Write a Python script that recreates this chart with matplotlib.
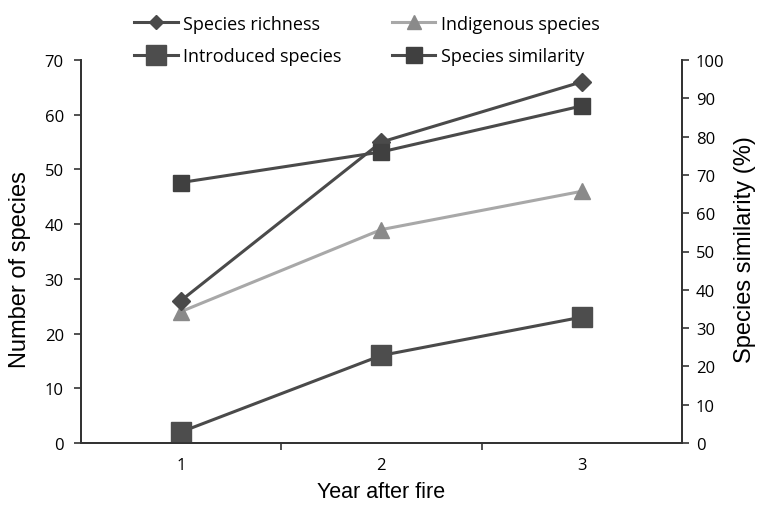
import matplotlib
matplotlib.use("Agg")
import matplotlib.pyplot as plt
from matplotlib.lines import Line2D

years = ["1", "2", "3"]
richness = [26, 55, 66]
indigenous = [24, 39, 46]
introduced = [2, 16, 23]
similarity = [68, 76, 88]

left_ticks = [0, 10, 20, 30, 40, 50, 60, 70]
right_ticks = [0, 10, 20, 30, 40, 50, 60, 70, 80, 90, 100]

tick_font = "Open Sans"
label_font = "Liberation Sans"

W, H = 757, 506
L, R, T, B = 80.5, 682, 61, 444
fig = plt.figure(figsize=(W/100, H/100), dpi=100)
ax = fig.add_axes([L/W, 1-B/H, (R-L)/W, (B-T)/H])
ax2 = ax.twinx()

x = [1, 2, 3]
dark = "#4a4a4a"
ax.plot(x, introduced, color=dark, lw=2.2, marker="s", ms=14, mfc="#4d4d4d", mec="#4d4d4d", zorder=3)
ax.plot(x, indigenous, color="#a8a8a8", lw=2.2, marker="^", ms=12, mfc="#8a8a8a", mec="#8a8a8a", zorder=3)
ax.plot(x, richness, color=dark, lw=2.2, marker="D", ms=9.5, mfc="#4a4a4a", mec="#4a4a4a", zorder=4)
ax2.plot(x, similarity, color=dark, lw=2.2, marker="s", ms=12, mfc="#404040", mec="#404040", zorder=3)

ax.set_xlim(0.5, 3.5)
ax.set_ylim(0, 70)
ax2.set_ylim(0, 100)
ax.set_yticks(left_ticks)
ax2.set_yticks(right_ticks)
ax.set_xticks([1.5, 2.5], minor=False)
ax.set_xticks([1, 2, 3], minor=True)
ax.set_xticklabels([])
ax.set_xticklabels(years, minor=True)
ax.tick_params(axis="x", which="major", length=5, width=1.2, color="#333333", direction="out")
ax.tick_params(axis="x", which="minor", length=0, pad=10, labelsize=12)
for lab in ax.get_xticklabels(minor=True):
    lab.set_fontfamily(tick_font)

ax.tick_params(axis="y", length=5, width=1.2, color="#333333", labelsize=12, pad=7)
ax2.tick_params(axis="y", length=5, width=1.2, color="#333333", labelsize=12, pad=5)
for lab in ax.get_yticklabels() + ax2.get_yticklabels():
    lab.set_fontfamily(tick_font)

for a in (ax, ax2):
    a.spines["top"].set_visible(False)
    for s in ("left", "right", "bottom"):
        a.spines[s].set_linewidth(1.3)
        a.spines[s].set_color("#333333")

ax.set_ylabel("Number of species", fontsize=17, family=label_font)
ax.yaxis.label.set_va("center")
ax.yaxis.set_label_coords((20 - L)/(R - L), (B - 270)/(B - T))
ax2.set_ylabel("Species similarity (%)", fontsize=17, family=label_font)
ax2.yaxis.label.set_va("center")
ax2.yaxis.set_label_coords((745 - L)/(R - L), (B - 250)/(B - T))
ax.set_xlabel("Year after fire", fontsize=15.5, family=label_font)
ax.xaxis.label.set_va("center")
ax.xaxis.set_label_coords(0.5, (B - 493)/(B - T))

handles = [
    Line2D([], [], color=dark, lw=2.2, marker="D", ms=7, mfc="#4a4a4a", mec="#4a4a4a"),
    Line2D([], [], color=dark, lw=2.2, marker="s", ms=14, mfc="#4d4d4d", mec="#4d4d4d"),
    Line2D([], [], color="#a8a8a8", lw=2.2, marker="^", ms=10, mfc="#8a8a8a", mec="#8a8a8a"),
    Line2D([], [], color=dark, lw=2.2, marker="s", ms=11, mfc="#404040", mec="#404040"),
]
labels = ["Species richness", "Introduced species", "Indigenous species", "Species similarity"]
leg = fig.legend(handles, labels, ncol=2, loc="center", bbox_to_anchor=(367/W, 1-41/H),
                 frameon=False, handlelength=2.4, columnspacing=2.8, labelspacing=0.8,
                 handletextpad=0.3, borderpad=0, prop={"family": tick_font, "size": 13})

fig.savefig("out.png", dpi=100)
